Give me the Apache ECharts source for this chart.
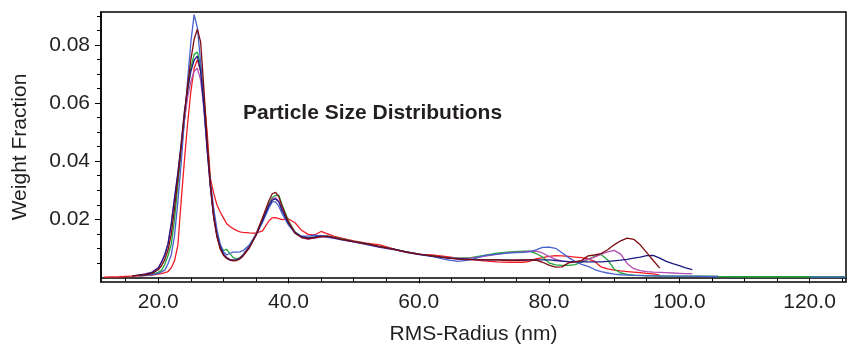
<!DOCTYPE html>
<html>
<head>
<meta charset="utf-8">
<script src="https://cdn.jsdelivr.net/npm/echarts@6/dist/echarts.min.js"></script>
<style>
  html, body { margin: 0; padding: 0; background: #fff; }
  #chart { width: 849px; height: 352px; }
</style>
</head>
<body>
<div id="chart"></div>
<script>
// RMS radius (nm) sample points shared by all runs
const radius = [
  11.6, 14, 16, 17, 18, 19,
  20, 20.5, 21, 21.5, 22, 22.5, 23, 23.5, 24, 24.5, 25, 25.5, 26, 26.5, 27, 27.5, 28, 28.5, 29, 29.5, 30, 30.5, 31, 31.5, 32, 32.5, 33,
  34, 35, 36, 37, 37.5, 38, 38.5, 39, 40, 41, 42, 43, 44, 45, 46, 47, 48,
  50, 52, 54, 56, 58, 60, 62, 64, 66, 68, 70, 72, 74, 76,
  77, 78, 79, 80, 81, 82, 83, 84, 85, 86, 87, 88, 89, 90, 91, 92, 93, 94, 95, 96, 97, 98, 99, 100, 101, 102,
  104, 106, 110, 115, 120, 125.6
]

// weight fraction per run
const redRun = [
  0.0001, 0.0002, 0.0004, 0.0005, 0.0006, 0.0008,
  0.0011, 0.0013, 0.0016, 0.002, 0.0033, 0.0058, 0.011, 0.026, 0.04, 0.053, 0.064, 0.072, 0.075, 0.071, 0.062, 0.05, 0.034, 0.029, 0.025, 0.0225, 0.0205, 0.0185, 0.0175, 0.0168, 0.0162, 0.0157, 0.0155,
  0.0153, 0.0152, 0.016, 0.0195, 0.0205, 0.0206, 0.0202, 0.0199, 0.0201, 0.0188, 0.0162, 0.0148, 0.0146, 0.0158, 0.015, 0.0141, 0.0136,
  0.0126, 0.0118, 0.0112, 0.0099, 0.0086, 0.0079, 0.0077, 0.0072, 0.0066, 0.0062, 0.0057, 0.0053, 0.0052, 0.0052,
  0.0055, 0.0064, 0.0068, 0.0072, 0.0075, 0.0074, 0.0072, 0.007, 0.0068, 0.0064, 0.0055, 0.0036, 0.0029, 0.0025, 0.0022, 0.002, 0.0018, 0.0016, 0.0014, 0.0012, 0.0008, null, null, null, null, null,
  null, null, null, null, null, null
]
const maroonRun = [
  null, null, 0.0005, 0.0007, 0.0009, 0.0013,
  0.0026, 0.004, 0.0062, 0.0095, 0.015, 0.024, 0.034, 0.045, 0.056, 0.066, 0.075, 0.082, 0.0855, 0.081, 0.065, 0.047, 0.032, 0.021, 0.014, 0.0098, 0.0076, 0.0065, 0.0059, 0.0057, 0.0058, 0.0063, 0.0073,
  0.0102, 0.0145, 0.0205, 0.0265, 0.0288, 0.0293, 0.0278, 0.0245, 0.019, 0.0152, 0.0137, 0.0133, 0.0136, 0.014, 0.0141, 0.0137, 0.0132,
  0.0123, 0.0115, 0.0106, 0.0097, 0.0088, 0.008, 0.0074, 0.0068, 0.0063, 0.0061, 0.006, 0.006, 0.0059, 0.006,
  0.006, 0.0059, 0.0052, 0.0042, 0.0035, 0.0036, 0.005, 0.0053, 0.0058, 0.0074, 0.0077, 0.0082, 0.0095, 0.0112, 0.0126, 0.0135, 0.0131, 0.0112, 0.0085, 0.0058, 0.0032, null, null, null, null, null,
  null, null, null, null, null, null
]
const greenRun = [
  null, null, null, 0.0005, 0.0007, 0.001,
  0.0017, 0.0024, 0.0045, 0.0075, 0.0115, 0.02, 0.032, 0.043, 0.054, 0.064, 0.072, 0.0768, 0.0776, 0.073, 0.061, 0.046, 0.032, 0.022, 0.015, 0.011, 0.0093, 0.0096, 0.0082, 0.0068, 0.0064, 0.0068, 0.0078,
  0.011, 0.015, 0.0202, 0.0255, 0.0275, 0.0282, 0.0283, 0.025, 0.0195, 0.0156, 0.014, 0.0135, 0.0137, 0.014, 0.0142, 0.0138, 0.0133,
  0.0124, 0.0116, 0.0106, 0.0098, 0.0089, 0.008, 0.0074, 0.0069, 0.0066, 0.0068, 0.0076, 0.0083, 0.0088, 0.009,
  0.009, 0.0082, 0.007, 0.005, 0.0043, 0.0041, 0.0041, 0.0044, 0.0052, 0.0062, 0.0072, 0.0079, 0.006, 0.0028, 0.0015, 0.001, 0.0008, 0.0007, 0.0006, 0.0005, 0.0005, 0.0004, 0.0004, 0.0004, 0.0004, 0.0004,
  0.0004, 0.0003, 0.0002, 0.0002, 0.0002, 0.0002
]
const blueRun = [
  null, null, null, 0.0005, 0.0007, 0.0009,
  0.0014, 0.0019, 0.0025, 0.0048, 0.0078, 0.0145, 0.026, 0.039, 0.054, 0.068, 0.081, 0.0905, 0.086, 0.074, 0.059, 0.045, 0.033, 0.024, 0.0165, 0.0115, 0.0088, 0.0077, 0.0083, 0.0087, 0.0087, 0.0088, 0.0092,
  0.0112, 0.0145, 0.019, 0.024, 0.026, 0.026, 0.0245, 0.022, 0.018, 0.0152, 0.0142, 0.0142, 0.0145, 0.0142, 0.0138, 0.0134, 0.013,
  0.0122, 0.0113, 0.0103, 0.0096, 0.0087, 0.0078, 0.0072, 0.0062, 0.0055, 0.006, 0.0075, 0.008, 0.0084, 0.0086,
  0.0088, 0.0095, 0.0103, 0.0104, 0.01, 0.0085, 0.0068, 0.0055, 0.0045, 0.0038, 0.0027, 0.002, 0.0015, 0.0011, 0.0009, 0.0008, 0.0007, 0.0006, 0.0005, 0.0005, 0.0004, 0.0004, 0.0004, 0.0004, 0.0004, 0.0004,
  0.0003, 0.0003, null, null, 0.0001, 0.0001
]
const navyRun = [
  null, null, 0.0005, 0.0008, 0.0011, 0.0016,
  0.0032, 0.0052, 0.0078, 0.0115, 0.0185, 0.0275, 0.036, 0.046, 0.057, 0.065, 0.071, 0.0748, 0.0762, 0.071, 0.059, 0.044, 0.031, 0.021, 0.0145, 0.0105, 0.008, 0.0068, 0.0061, 0.0059, 0.006, 0.0065, 0.0075,
  0.0105, 0.0145, 0.0195, 0.0248, 0.0266, 0.027, 0.026, 0.023, 0.0185, 0.0155, 0.014, 0.0136, 0.0139, 0.0143, 0.0142, 0.0137, 0.0132,
  0.0123, 0.0115, 0.0105, 0.0098, 0.0088, 0.008, 0.0073, 0.0068, 0.0064, 0.0062, 0.006, 0.006, 0.0059, 0.0059,
  0.006, 0.006, 0.006, 0.006, 0.0058, 0.0056, 0.0054, 0.0053, 0.0053, 0.0053, 0.0053, 0.0053, 0.0055, 0.0057, 0.0059, 0.0062, 0.0066, 0.007, 0.0075, 0.0076, 0.0066, 0.0055, 0.0047, 0.004, 0.0033, 0.0027,
  null, null, null, null, null, null
]
const purpleRun = [
  null, null, 0.0005, 0.0008, 0.0012, 0.0018,
  0.0034, 0.0054, 0.008, 0.0118, 0.0188, 0.0275, 0.0355, 0.0445, 0.054, 0.062, 0.0675, 0.071, 0.072, 0.068, 0.058, 0.044, 0.031, 0.0205, 0.0142, 0.0103, 0.0079, 0.0067, 0.0061, 0.0059, 0.006, 0.0066, 0.0077,
  0.0108, 0.015, 0.02, 0.025, 0.027, 0.0274, 0.0262, 0.0235, 0.019, 0.0154, 0.0137, 0.0132, 0.0135, 0.0139, 0.014, 0.0135, 0.013,
  0.0122, 0.0114, 0.0105, 0.0097, 0.0088, 0.008, 0.0073, 0.0068, 0.0065, 0.0066, 0.0072, 0.0079, 0.0085, 0.0088,
  0.009, 0.009, 0.0084, 0.0072, 0.0062, 0.0056, 0.0053, 0.0054, 0.0057, 0.0062, 0.007, 0.008, 0.0088, 0.0093, 0.008, 0.0048, 0.003, 0.0023, 0.002, 0.0018, 0.0017, 0.0016, 0.0015, 0.0014, 0.0013, 0.0013,
  null, null, null, null, null, null
]

// axis ticks
const xLabelTicks = [20, 40, 60, 80, 100, 120]
const xMinorTicks = [15, 25, 30, 35, 45, 50, 55, 65, 70, 75, 85, 90, 95, 105, 110, 115, 125]
const yLabelTicks = [0.02, 0.04, 0.06, 0.08]
const yMinorTicks = [0.005, 0.01, 0.015, 0.025, 0.03, 0.035, 0.045, 0.05, 0.055, 0.065, 0.07, 0.075, 0.085, 0.09]

const textColor = '#231f20'
const fontFamily = 'Liberation Sans, Arial, sans-serif'

function toPairs(values) {
  return radius.map((r, i) => [r, values[i]])
}

function lineSeries(name, values, color) {
  return {
    name: name,
    type: 'line',
    xAxisIndex: 0,
    yAxisIndex: 0,
    data: toPairs(values),
    showSymbol: false,
    symbol: 'none',
    lineStyle: { color: color, width: 1.3 },
    itemStyle: { color: color }
  }
}

const chart = echarts.init(document.getElementById('chart'))
const xBase = {
  type: 'value',
  min: 11.2,
  max: 125.6,
  position: 'bottom',
  splitLine: { show: false }
}
const yBase = {
  type: 'value',
  min: -0.0016,
  max: 0.0914,
  position: 'left',
  splitLine: { show: false }
}
chart.setOption({
  animation: false,
  title: {
    text: 'Particle Size Distributions',
    left: 243,
    top: 103,
    padding: 0,
    textStyle: { fontFamily: fontFamily, fontSize: 21, fontWeight: 'bold', color: textColor }
  },
  grid: {
    left: 101,
    right: 3,
    top: 12,
    bottom: 70,
    show: true,
    borderColor: '#000',
    borderWidth: 1.5
  },
  xAxis: [
    Object.assign({}, xBase, {
      name: 'RMS-Radius (nm)',
      nameLocation: 'middle',
      nameGap: 42,
      nameTextStyle: { fontFamily: fontFamily, fontSize: 21, color: textColor },
      axisLine: { lineStyle: { color: '#000', width: 1.5 } },
      axisTick: { customValues: xLabelTicks, length: 6, lineStyle: { color: '#000', width: 1 } },
      axisLabel: {
        customValues: xLabelTicks,
        margin: 10,
        fontFamily: fontFamily,
        fontSize: 21,
        color: textColor,
        formatter: v => v.toFixed(1)
      }
    }),
    Object.assign({}, xBase, {
      axisLine: { show: false },
      axisTick: { customValues: xMinorTicks, length: 4, lineStyle: { color: '#000', width: 1 } },
      axisLabel: { show: false }
    })
  ],
  yAxis: [
    Object.assign({}, yBase, {
      name: 'Weight Fraction',
      nameLocation: 'middle',
      nameGap: 70,
      nameTextStyle: { fontFamily: fontFamily, fontSize: 21, color: textColor },
      axisLine: { show: true, lineStyle: { color: '#000', width: 1.5 } },
      axisTick: { show: true, customValues: yLabelTicks, length: 6, lineStyle: { color: '#000', width: 1 } },
      axisLabel: {
        customValues: yLabelTicks,
        margin: 11,
        fontFamily: fontFamily,
        fontSize: 21,
        color: textColor,
        formatter: v => v.toFixed(2)
      }
    }),
    Object.assign({}, yBase, {
      axisLine: { show: false },
      axisTick: { show: true, customValues: yMinorTicks, length: 4, lineStyle: { color: '#000', width: 1 } },
      axisLabel: { show: false }
    })
  ],
  series: [
    lineSeries('run 1', redRun, '#f01c24'),
    lineSeries('run 2', greenRun, '#1fa637'),
    lineSeries('run 3', purpleRun, '#b44cb4'),
    lineSeries('run 4', blueRun, '#4a60cc'),
    lineSeries('run 5', navyRun, '#1c1c80'),
    lineSeries('run 6', maroonRun, '#7c0a10')
  ]
})
</script>
</body>
</html>
